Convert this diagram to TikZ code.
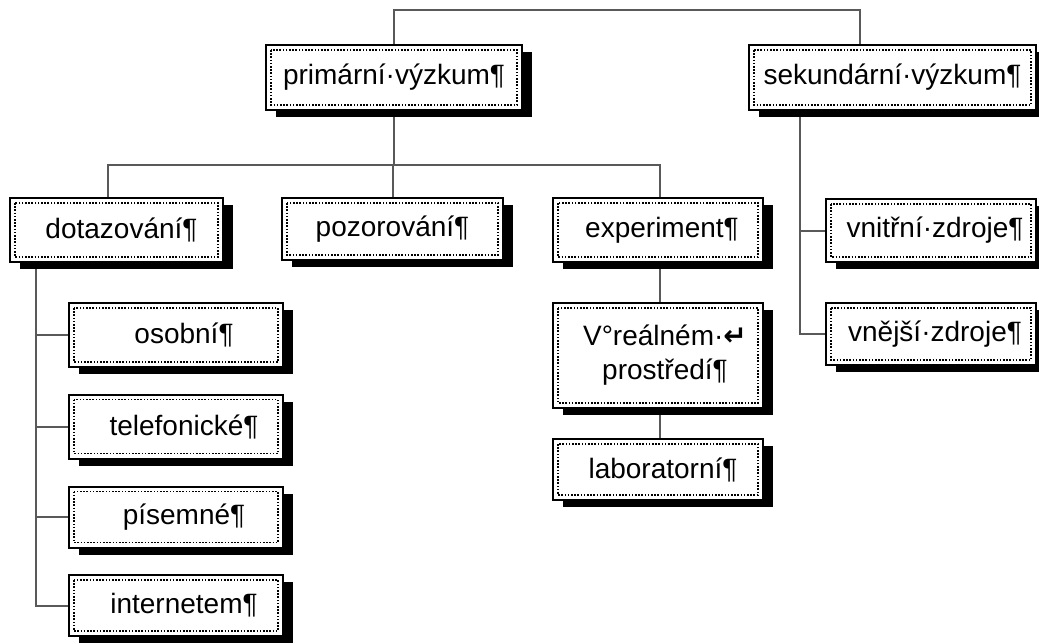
\documentclass[tikz,border=0pt]{standalone}
\usepackage{fontspec}
\setmainfont{Liberation Sans}
\newfontfamily\arrowfont{DejaVu Sans}
\usetikzlibrary{shadows,backgrounds}

\begin{document}
\begin{tikzpicture}[x=1pt,y=-1pt,
  resbox/.style={draw=black, line width=2pt, fill=white, minimum height=64pt, inner sep=0pt,
    font=\fontsize{28}{34}\selectfont, align=center,
    drop shadow={shadow xshift=10pt, shadow yshift=-7pt, fill=black, opacity=1},
    path picture={\draw[line width=1.6pt, dash pattern=on 1.6pt off 1.6pt]
      ([shift={(5pt,-5pt)}]path picture bounding box.north west) rectangle
      ([shift={(-5pt,5pt)}]path picture bounding box.south east);}},
  conn/.style={line width=2pt, draw=black!65}]
\useasboundingbox (0,0) rectangle (1039,643);
\clip (0,0) rectangle (1039,643);

% Draw top level
\node[resbox, minimum width=256pt, minimum height=65pt] (prim) at (394,77.5) {primární·výzkum¶};
\node[resbox, minimum width=287pt, minimum height=65pt] (sek) at (892.5,77.5) {sekundární·výzkum¶};

% Draw primary research methods
\node[resbox, minimum width=213pt] (dot) at (116.5,230) {\hspace*{10pt}dotazování¶};
\node[resbox, minimum width=221pt, minimum height=62pt] (poz) at (392.5,229) {pozorování¶};
\node[resbox, minimum width=210pt] (exp) at (658,230) {\hspace*{8pt}experiment¶};

% Draw kinds of questioning
\node[resbox, minimum width=214pt] (osob) at (176,335) {\hspace*{16pt}osobní¶};
\node[resbox, minimum width=214pt] (tel) at (176,426.5) {\hspace*{16pt}telefonické¶};
\node[resbox, minimum width=214pt, minimum height=61pt] (pis) at (176,517) {\hspace*{16pt}písemné¶};
\node[resbox, minimum width=214pt, minimum height=61pt] (inet) at (176,605.5) {\hspace*{16pt}internetem¶};

% Draw kinds of experiment
\node[resbox, minimum width=210pt, minimum height=105pt] (real) at (658,355.5) {\hspace*{14pt}V°reálném·{\arrowfont\bfseries ↵}\\\hspace*{14pt}prostředí¶};
\node[resbox, minimum width=210pt, minimum height=61pt] (lab) at (658,469.5) {\hspace*{10pt}laboratorní¶};

% Draw secondary sources
\node[resbox, minimum width=210pt, minimum height=63pt] (vnit) at (931,230.5) {\hspace*{8pt}vnitřní·zdroje¶};
\node[resbox, minimum width=210pt, minimum height=62pt] (vnej) at (931,334) {\hspace*{8pt}vnější·zdroje¶};

% Draw connectors
\begin{scope}[on background layer]
\coordinate (topbar) at (0,10);
\coordinate (midbar) at (0,165);
\coordinate (dotspine) at ([xshift=-80.5pt]dot.south);
\coordinate (sekspine) at ([xshift=-92.5pt]sek.south);
\draw[conn] (prim.north) -- (prim.north |- topbar) -| ([xshift=-33pt]sek.north);
\draw[conn] (prim.south) -- (prim.south |- midbar);
\draw[conn] ([xshift=-8.5pt]dot.north) |- ([xshift=2pt]exp.north |- midbar) -- ([xshift=2pt]exp.north);
\draw[conn] (poz.north) -- (poz.north |- midbar);
\draw[conn] (dotspine) |- (inet.west);
\draw[conn] (osob.west) -- (osob.west -| dotspine);
\draw[conn] (tel.west) -- (tel.west -| dotspine);
\draw[conn] (pis.west) -- (pis.west -| dotspine);
\draw[conn] ([xshift=2pt]exp.south) -- ([xshift=2pt]real.north);
\draw[conn] ([xshift=2pt]real.south) -- ([xshift=2pt]lab.north);
\draw[conn] (sekspine) |- (vnej.west);
\draw[conn] (vnit.west) -- (vnit.west -| sekspine);
\end{scope}
\end{tikzpicture}
\end{document}
